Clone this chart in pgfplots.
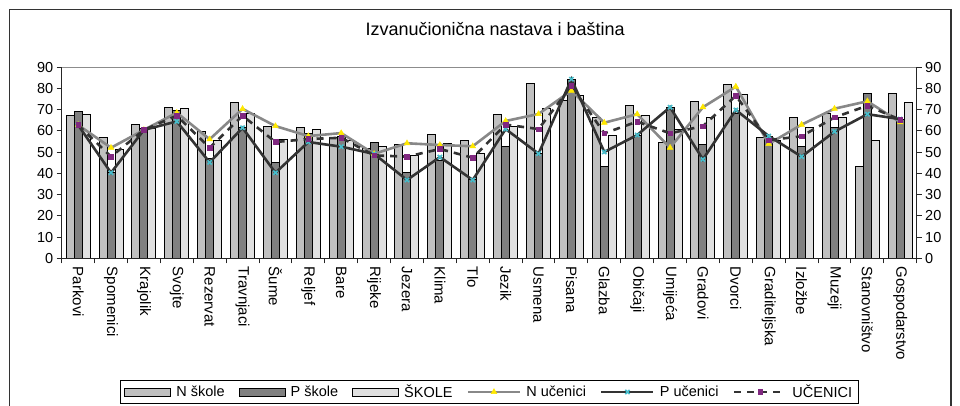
\documentclass[border=0pt]{standalone}
\usepackage{fontspec}
\setmainfont{Liberation Sans}
\usepackage{pgfplots}
\pgfplotsset{compat=1.18}
\usepackage{pgfplotstable}
\definecolor{nsk}{RGB}{192,192,192}
\definecolor{psk}{RGB}{128,128,128}
\definecolor{sk}{RGB}{224,224,224}
\definecolor{nline}{RGB}{136,136,136}
\definecolor{pline}{RGB}{51,51,51}
\definecolor{ymark}{RGB}{255,232,0}
\definecolor{cmark}{RGB}{70,190,205}
\definecolor{umark}{RGB}{128,40,128}

\pgfplotsset{
  linelegend/.style={legend image code/.code={%
    \draw[##1, mark=none, line width=2.8pt] (0pt,0pt) -- (52pt,0pt);
    \path[##1, draw=none] plot coordinates {(26pt,0pt)};}},
  barlegend/.style={legend image code/.code={\draw[fill=#1,draw=black,line width=1pt] (0pt,-4pt) rectangle (46pt,4pt);}},
}

\pgfplotstableread{
x Ns Ps S Nu Pu U
0 67.2 69.1 67.9 62.8 62.8 62.8
1 56.8 40.3 51.5 52.1 40.3 47.9
2 63.0 61.3 61.3 60.5 60.5 60.5
3 71.2 69.6 70.5 68.6 64.5 67.2
4 59.7 47.1 55.7 56.1 45.2 52.1
5 73.3 61.7 68.3 70.4 61.5 67.2
6 62.3 45.2 56.1 62.3 40.3 54.8
7 61.5 58.6 60.8 57.6 54.8 56.2
8 56.8 57.5 55.4 59.0 52.6 56.8
9 51.7 54.8 52.6 49.2 49.2 48.5
10 53.4 40.3 48.5 54.2 36.9 47.9
11 58.3 46.3 54.0 53.4 47.7 51.5
12 55.6 36.9 49.3 52.8 36.9 47.4
13 67.9 52.6 62.3 64.7 60.9 63.0
14 82.5 49.2 70.5 68.0 49.3 60.9
15 74.3 84.4 76.8 79.0 84.4 81.2
16 66.4 43.2 58.1 63.9 50.1 58.9
17 72.1 58.1 67.2 67.9 58.1 64.4
18 54.7 71.2 60.9 52.1 71.2 58.9
19 74.1 53.4 66.4 71.2 46.6 62.3
20 81.8 68.3 77.0 80.9 69.9 76.6
21 56.8 57.6 55.7 53.9 57.6 55.7
22 66.4 52.6 61.5 63.0 47.9 57.5
23 68.3 61.5 66.4 70.5 59.7 66.4
24 43.2 77.6 55.6 74.0 67.9 71.9
25 77.6 65.6 73.3 64.1 65.6 65.3
}\data

\begin{document}
\begin{tikzpicture}[x=1pt,y=1pt]
\useasboundingbox (0,0) rectangle (960,405);
\draw[line width=1.4pt, black!80] (9.5,-5) -- (9.5,395.5) -- (951,395.5) -- (951,-5);
\begin{axis}[
  at={(61.7pt,146.7pt)}, anchor=south west,
  scale only axis, width=855pt, height=191pt,
  xmin=-0.5, xmax=25.5, ymin=0, ymax=90,
  axis y line*=left, axis x line*=bottom,
  axis line style={line width=1.1pt, black!85},
  xtick={0,...,25},
  xticklabels={Parkovi,Spomenici,Krajolik,Svojte,Rezervat,Travnjaci,Šume,Reljef,Bare,Rijeke,Jezera,Klima,Tlo,Jezik,Usmena,Pisana,Glazba,Običaji,Umijeća,Gradovi,Dvorci,Graditeljska,Izložbe,Muzeji,Stanovništvo,Gospodarstvo},
  xtick style={draw=none},
  xticklabel style={rotate=-90, anchor=west, font=\fontsize{15}{17}\selectfont},
  ytick={0,10,...,90},
  tick align=outside, major tick length=5pt,
  ytick style={line width=1pt, black!85},
  yticklabel style={font=\fontsize{14.5}{16}\selectfont},
  /pgf/number format/assume math mode=true,
  title={Izvanučionična nastava i baština},
  title style={font=\fontsize{18}{20}\selectfont, at={(0.5,1)}, anchor=center, yshift=32pt, xshift=6pt},
  legend columns=6,
  legend style={at={(0.5,-0.70)}, anchor=center, draw=black, line width=1pt,
    font=\fontsize{14.5}{16}\selectfont, inner xsep=4pt, inner ysep=2pt,
    /tikz/every odd column/.append style={column sep=3pt},
    /tikz/every even column/.append style={column sep=12pt}},
  clip=false,
]
\draw[black!45, line width=1.2pt] (rel axis cs:0,1) -- (rel axis cs:1,1);
\addplot[ybar, bar width=8pt, bar shift=-8pt, fill=nsk, draw=black, line width=1pt, barlegend=nsk]
  table[x=x, y=Ns] {\data};
\addlegendentry{N škole}
\addplot[ybar, bar width=8pt, bar shift=0pt, fill=psk, draw=black, line width=1pt, barlegend=psk]
  table[x=x, y=Ps] {\data};
\addlegendentry{P škole}
\addplot[ybar, bar width=8pt, bar shift=8pt, fill=sk, draw=black, line width=1pt, barlegend=sk]
  table[x=x, y=S] {\data};
\addlegendentry{ŠKOLE}
\addplot[nline, line width=2.6pt, mark=triangle*, mark size=3.3pt,
  mark options={solid, fill=ymark, draw=ymark, line width=0.5pt}, linelegend]
  table[x=x, y=Nu] {\data};
\addlegendentry{N učenici}
\addplot[pline, line width=2.6pt, mark=x, mark size=3pt,
  mark options={solid, draw=cmark, line width=1.6pt}, linelegend]
  table[x=x, y=Pu] {\data};
\addlegendentry{P učenici}
\addplot[pline, line width=2.6pt, dash pattern=on 7pt off 6pt, mark=square*, mark size=2.3pt,
  mark options={solid, fill=umark, draw=umark, line width=0.5pt}, linelegend]
  table[x=x, y=U] {\data};
\addlegendentry{UČENICI}
\end{axis}
\begin{axis}[
  at={(61.7pt,146.7pt)}, anchor=south west,
  scale only axis, width=855pt, height=191pt,
  xmin=-0.5, xmax=25.5, ymin=0, ymax=90,
  axis y line*=right, axis x line*=bottom,
  axis line style={line width=1.1pt, black!85},
  xtick={-0.5,0.5,...,25.5}, xticklabels={},
  ytick={0,10,...,90},
  tick align=outside, major tick length=5pt,
  tick style={line width=1pt, black!85},
  yticklabel style={font=\fontsize{14.5}{16}\selectfont},
  /pgf/number format/assume math mode=true,
]
\end{axis}
\end{tikzpicture}
\end{document}
